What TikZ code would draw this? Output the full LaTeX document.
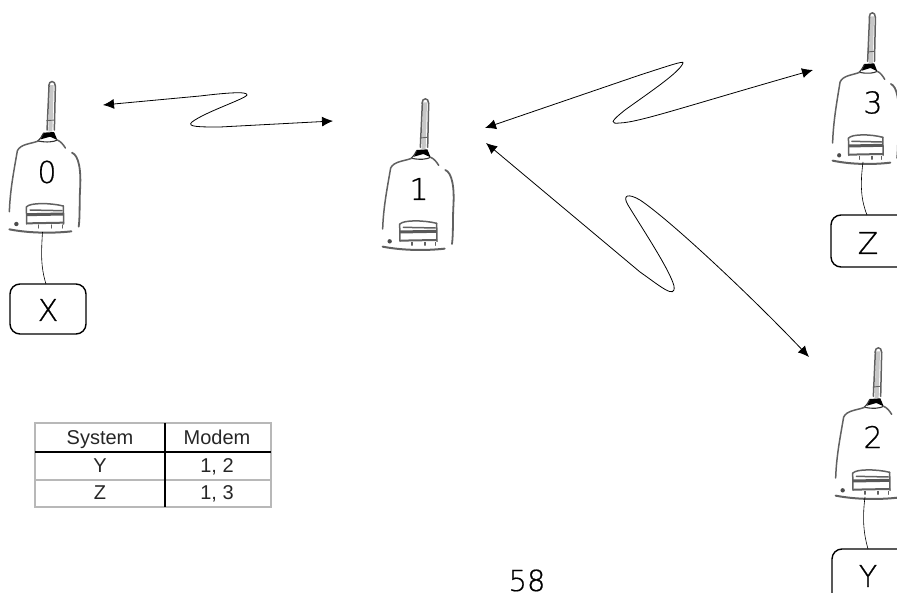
\documentclass[tikz,border=0pt]{standalone}
\usepackage{fontspec}
\setmainfont{Liberation Sans}
\newfontfamily\thinfont[FakeBold=0.6]{DejaVu Sans ExtraLight}
\usetikzlibrary{arrows.meta}
\tikzset{
  x=1pt,y=-1pt,
  sk/.style={draw=black!62,line width=1.5pt,line cap=round},
  skd/.style={draw=black!80,line width=1.1pt,line cap=round},
  lbl/.style={font=\thinfont\fontsize{30}{30}\selectfont,inner sep=0pt},
  termbox/.style={draw=black,line width=1.4pt,rounded corners=10pt,inner sep=0pt},
  link/.style={draw=black,line width=.8pt,{Latex[length=11pt,width=10pt]}-{Latex[length=11pt,width=10pt]}},
  wire/.style={draw=black,line width=.6pt},
  gridl/.style={draw=black!28,line width=1.3pt},
  darkl/.style={draw=black,line width=1.2pt},
  cell/.style={font=\fontsize{20}{20}\selectfont,inner sep=0pt,text=black!85,anchor=base},
  modem/.pic={
    \begin{scope}[x=.3333pt,y=-.3333pt,shift={(-155,-35)}]
      % antenna
      \draw[draw=black!22,line width=4pt] (155,45) -- (151,185);
      \draw[sk] (146,48) .. controls (146,30) and (166,30) .. (166,48);
      \draw[sk] (147,48) -- (141,180);
      \draw[sk] (166,48) -- (163,180);
      \draw[sk,line width=.9pt] (140,152) -- (163,150);
      % knob
      \fill[black] (130,188) -- (162,186) -- (172,210) -- (150,200) -- (122,208) -- cycle;
      \draw[skd] (112,214) .. controls (122,205) and (125,200) .. (130,190);
      \draw[skd] (115,213) .. controls (140,218) and (160,216) .. (172,210);
      % body
      \draw[sk] (115,213) .. controls (90,222) and (62,222) .. (52,242)
                .. controls (42,300) and (30,360) .. (28,425);
      \draw[sk] (172,210) .. controls (182,214) and (190,224) .. (196,234);
      \draw[sk,line width=1.8pt] (216,248) .. controls (236,256) and (244,300) .. (240,360)
                .. controls (238,400) and (240,440) .. (236,470);
      % connector
      \draw[sk] (80,410) .. controls (90,398) and (150,398) .. (190,408);
      \draw[sk] (79,410) -- (80,462);
      \draw[sk] (190,408) -- (191,462);
      \draw[draw=black!65,line width=3pt] (80,434) -- (190,432);
      \draw[sk] (90,420) -- (186,422);
      \draw[sk,line width=2pt] (82,460) -- (190,458);
      % base
      \draw[sk,line width=2pt] (28,478) .. controls (90,490) and (160,490) .. (214,484);
      \fill[black!70] (49,462) circle (2.2pt);
      \draw[sk,line width=1.1pt] (116,465) -- (116,474) (155,465) -- (155,474) (187,465) -- (187,474);
    \end{scope}
  }
}
\begin{document}
\begin{tikzpicture}
\useasboundingbox (0,0) rectangle (897,593);

% modems
\pic (m0) at (51.7,81.7) {modem};
\pic (m1) at (425,99) {modem};
\pic (m2) at (878,348) {modem};
\pic[xscale=.93] (m3) at (872,13) {modem};
\node[lbl] (l0) at (47,172) {0};
\node[lbl] (l1) at (419,189) {1};
\node[lbl] (l2) at (873,437) {2};
\node[lbl] (l3) at (873,102.5) {3};

% terminal boxes
\node[termbox,minimum width=76pt,minimum height=50pt] (bx) at (48,309) {};
\node[termbox,minimum width=100pt,minimum height=52pt] (bz) at (881,241) {};
\node[termbox,minimum width=100pt,minimum height=70pt] (by) at (882,584) {};
\node[lbl] (tx) at (48,310) {X};
\node[lbl] (tz) at (868,243) {Z};
\node[lbl] (ty) at (868,576) {Y};

% wires
\coordinate (w0) at (42.5,232);
\coordinate (w3) at (863,162);
\coordinate (w2) at (865,497);
\coordinate (e0) at (46,284);
\coordinate (e3) at (867,215);
\coordinate (e2) at (868,549);
\draw[wire] (w0) .. controls (41,255) and (41,268) .. (e0);
\draw[wire] (w3) .. controls (860,185) and (861,200) .. (e3);
\draw[wire] (w2) .. controls (862,520) and (864,535) .. (e2);

% radio links
\coordinate (a0) at (103,105);
\coordinate (a1) at (333,121);
\coordinate (b0) at (485,128);
\coordinate (b1) at (813,70);
\coordinate (c0) at (486,143);
\coordinate (c1) at (809,357);
\draw[link] (a0) -- (200,96) .. controls (225,93) and (248,91) .. (247,95)
   .. controls (245,99) and (205,112) .. (192,122)
   .. controls (186,127) and (200,127) .. (220,127) -- (a1);
\draw[link] (b0) -- (640,75) .. controls (665,67) and (685,60) .. (683,63)
   .. controls (680,72) and (650,92) .. (625,110)
   .. controls (610,122) and (610,124) .. (620,123)
   .. controls (640,122) and (680,108) .. (b1);
\draw[link] (c0) -- (640,272) .. controls (660,286) and (676,300) .. (674,286)
   .. controls (670,270) and (640,225) .. (628,205)
   .. controls (622,195) and (628,193) .. (640,200)
   .. controls (670,220) and (750,295) .. (c1);

% table
\draw[gridl] (35,423) rectangle (271,507);
\draw[gridl] (35,480) -- (271,480);
\draw[darkl] (35,452) -- (271,452);
\draw[darkl] (165,423) -- (165,507);
\node[cell] (t1) at (100,445) {System};
\node[cell] (t2) at (217,445) {Modem};
\node[cell] (t3) at (100,472) {Y};
\node[cell] (t4) at (217,472) {1, 2};
\node[cell] (t5) at (100,499) {Z};
\node[cell] (t6) at (217,499) {1, 3};

% page number
\node[font=\thinfont\fontsize{29}{29}\selectfont,anchor=base,inner sep=0pt] (pg) at (527,591) {58};
\end{tikzpicture}
\end{document}
